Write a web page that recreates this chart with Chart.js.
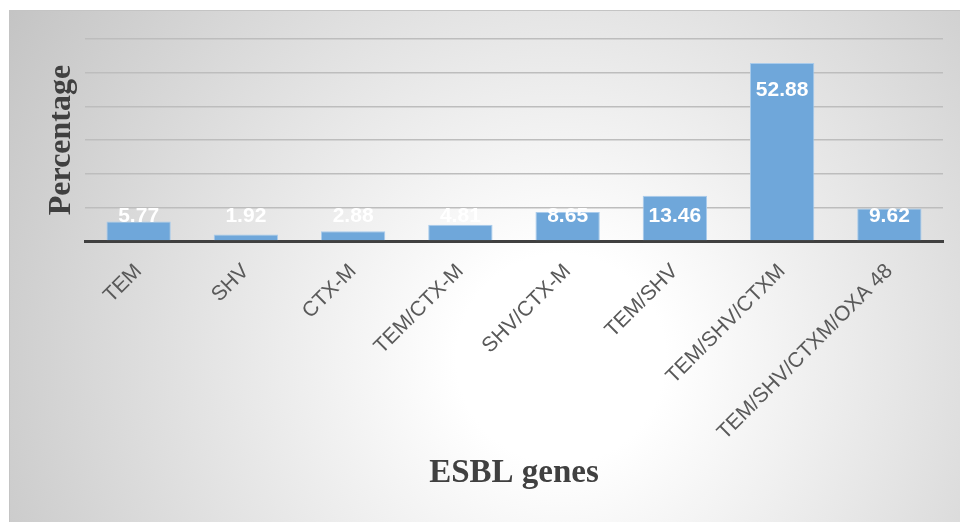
<!DOCTYPE html>
<html>
<head>
<meta charset="utf-8">
<script src="https://cdn.jsdelivr.net/npm/chart.js@4/dist/chart.umd.min.js"></script>
<style>
  html, body { margin: 0; padding: 0; background: #fff; }
  #frame {
    position: absolute; left: 9px; top: 10px;
    width: 950px; height: 511px;
    border-left: 1px solid #c4c4c4; border-top: 1px solid #c4c4c4;
    background: radial-gradient(circle farthest-corner at 58% 68%, #ffffff 16%, #c4c4c4 100%);
  }
  canvas { display: block; }
</style>
</head>
<body>
<div id="frame"><canvas id="chart" width="950" height="511"></canvas></div>
<script>
const genes = ["TEM", "SHV", "CTX-M", "TEM/CTX-M", "SHV/CTX-M", "TEM/SHV", "TEM/SHV/CTXM", "TEM/SHV/CTXM/OXA 48"];
const percentages = [5.77, 1.92, 2.88, 4.81, 8.65, 13.46, 52.88, 9.62];
const yMax = 60;
const yStep = 10;

// white value labels near the top of each bar, kept above the axis for short bars
const barValueLabels = {
  id: "barValueLabels",
  afterDatasetsDraw(chart) {
    const { ctx } = chart;
    const meta = chart.getDatasetMeta(0);
    const base = chart.scales.y.getPixelForValue(0);
    ctx.save();
    ctx.fillStyle = "#ffffff";
    ctx.font = "bold 21px 'Liberation Sans', Arial, sans-serif";
    ctx.textAlign = "center";
    ctx.textBaseline = "middle";
    meta.data.forEach((bar, i) => {
      const y = Math.min(bar.y + 27, base - 25);
      ctx.fillText(percentages[i].toFixed(2), bar.x, y);
    });
    ctx.restore();
  },
};

new Chart(document.getElementById("chart"), {
  type: "bar",
  data: {
    labels: genes,
    datasets: [
      {
        data: percentages,
        backgroundColor: "#6fa7da",
        borderColor: "#a9cbeb",
        borderWidth: 1,
        categoryPercentage: 1,
        barPercentage: 0.6,
      },
    ],
  },
  options: {
    responsive: false,
    animation: false,
    layout: { padding: { top: 28, right: 17, left: 0, bottom: 0 } },
    plugins: {
      legend: { display: false },
      tooltip: { enabled: false },
    },
    scales: {
      x: {
        grid: { display: false, drawTicks: false },
        border: { display: true, color: "#404040", width: 3 },
        ticks: {
          maxRotation: 45,
          minRotation: 45,
          padding: 18,
          color: "#595959",
          font: { family: "'Liberation Sans', Arial, sans-serif", size: 21 },
        },
        title: {
          display: true,
          text: "ESBL genes",
          color: "#404040",
          font: { family: "'Liberation Serif', 'Times New Roman', serif", size: 33, weight: "bold" },
          padding: { top: 0, bottom: 29 },
        },
        afterFit(scale) { scale.height = 281; },
      },
      y: {
        min: 0,
        max: yMax,
        ticks: { display: false, stepSize: yStep },
        grid: { color: "#bdbdbd", lineWidth: 1.5, drawTicks: false },
        border: { display: false },
        title: {
          display: true,
          text: "Percentage",
          color: "#404040",
          font: { family: "'Liberation Serif', 'Times New Roman', serif", size: 32, weight: "bold" },
          padding: { top: 33, bottom: 0 },
        },
        afterFit(scale) { scale.width = 75; },
      },
    },
  },
  plugins: [barValueLabels],
});
</script>
</body>
</html>
